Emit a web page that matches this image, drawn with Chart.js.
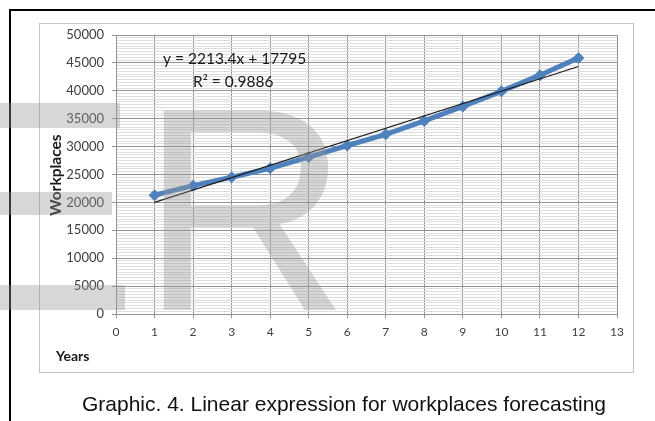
<!DOCTYPE html>
<html>
<head>
<meta charset="utf-8">
<script src="https://cdn.jsdelivr.net/npm/chart.js@4.4.1/dist/chart.umd.min.js"></script>
<style>
  html, body { margin: 0; padding: 0; background: #fff; }
  body { width: 655px; height: 421px; overflow: hidden; position: relative; font-family: "Liberation Sans", Arial, sans-serif; }
  #frame { position: absolute; left: 9px; top: 9px; width: 700px; height: 500px; border: 2px solid #000; }
  #box { position: absolute; left: 39px; top: 23px; width: 593px; height: 348px; border: 1px solid #c4c4c4; }
  #wrap { position: absolute; left: 0; top: 0; width: 655px; height: 421px; }
  .wm { position: absolute; background: rgba(150,150,150,0.38); pointer-events: none; }
  #bigR { position: absolute; left: 140px; top: 64px; font-size: 290px; line-height: 1; color: rgba(150,150,150,0.38); pointer-events: none; font-family: "Liberation Sans", Arial, sans-serif; }
  #caption { position: absolute; left: 0; width: 688px; top: 392px; text-align: center; font-size: 21px; color: #111; }
</style>
</head>
<body>
<div id="frame"></div>
<div id="box"></div>
<div id="wrap"><canvas id="c" width="655" height="421"></canvas></div>
<div class="wm" style="left:0;top:103px;width:120px;height:25px"></div>
<div class="wm" style="left:0;top:192px;width:112px;height:23px"></div>
<div class="wm" style="left:0;top:285px;width:125px;height:25px"></div>
<div id="bigR">R</div>
<div id="caption">Graphic. 4. Linear expression for workplaces forecasting</div>
<script>
// data
var years = [1, 2, 3, 4, 5, 6, 7, 8, 9, 10, 11, 12];
var workplaces = [21300, 23000, 24500, 26100, 28100, 30200, 32200, 34600, 37200, 39900, 42800, 45900];
var trendSlope = 2213.4;
var trendIntercept = 17795;
var rSquared = 0.9886;

var seriesPts = years.map(function(x, i){ return {x: x, y: workplaces[i]} });
var trendPts = [years[0], years[years.length - 1]].map(function(x){
  return {x: x, y: trendSlope * x + trendIntercept}
});

var labelsPlugin = {
  id: 'labels',
  afterDraw: function(chart){
    var ctx = chart.ctx;
    ctx.save();
    ctx.fillStyle = '#1a1a1a';
    ctx.textBaseline = 'middle';
    ctx.textAlign = 'left';
    ctx.font = '15.5px Lato, "Open Sans", sans-serif';
    ctx.fillText('y = ' + trendSlope + 'x + ' + trendIntercept, 163, 59);
    ctx.fillText('R\u00B2 = ' + rSquared, 193, 82);
    ctx.font = 'bold 14px Lato, "Open Sans", sans-serif';
    ctx.fillText('Years', 56, 356);
    ctx.font = 'bold 15.5px Lato, "Open Sans", sans-serif';
    ctx.translate(56, 175);
    ctx.rotate(-Math.PI / 2);
    ctx.textAlign = 'center';
    ctx.fillText('Workplaces', 0, 0);
    ctx.restore();
  }
};

var chart = new Chart(document.getElementById('c'), {
  type: 'scatter',
  data: {
    datasets: [
      {
        label: 'Trend',
        data: trendPts,
        showLine: true,
        borderColor: '#1c1c1c',
        borderWidth: 1.2,
        pointRadius: 0,
        order: 0
      },
      {
        label: 'Workplaces',
        data: seriesPts,
        showLine: true,
        borderColor: '#4f81bd',
        backgroundColor: '#4f81bd',
        borderWidth: 5,
        pointStyle: 'rectRot',
        pointRadius: 6,
        pointBorderWidth: 0,
        order: 1
      }
    ]
  },
  plugins: [labelsPlugin],
  options: {
    responsive: false,
    animation: false,
    layout: { padding: { left: 56, top: 35, right: 38, bottom: 0 } },
    plugins: { legend: { display: false }, tooltip: { enabled: false } },
    scales: {
      x: {
        type: 'linear',
        min: 0,
        max: 13,
        afterFit: function(s){ s.height = 107 },
        ticks: { stepSize: 1, padding: 7, color: '#404040', font: { family: 'Lato, sans-serif', size: 12 } },
        grid: { color: '#949494', tickLength: 4, tickColor: '#949494' },
        border: { color: '#949494' }
      },
      y: {
        min: 0,
        max: 50000,
        afterFit: function(s){ s.width = 60 },
        ticks: {
          stepSize: 500,
          autoSkip: false,
          padding: 8,
          color: '#404040',
          font: { family: 'Lato, sans-serif', size: 13 },
          callback: function(v){ return v % 5000 === 0 ? String(v) : '' }
        },
        grid: {
          tickLength: 4,
          color: function(c){ return c.tick && c.tick.value % 5000 === 0 ? '#949494' : '#dedede' },
          tickColor: function(c){ return c.tick && c.tick.value % 5000 === 0 ? '#949494' : 'rgba(0,0,0,0)' }
        },
        border: { color: '#949494' }
      }
    }
  }
});
</script>
</body>
</html>
